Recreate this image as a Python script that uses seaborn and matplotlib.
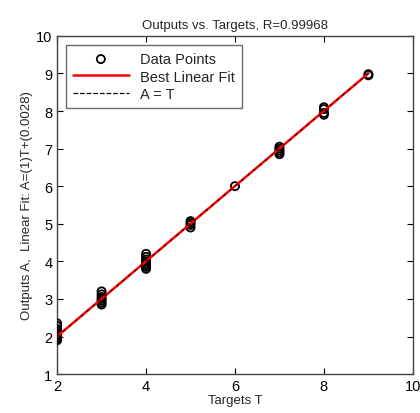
import matplotlib
matplotlib.use('Agg')
import matplotlib.pyplot as plt
import seaborn as sns
import pandas as pd
import numpy as np

# Targets and network outputs
targets = [2, 2, 2, 2, 2, 2, 2, 2, 2,
           3, 3, 3, 3, 3, 3, 3,
           4, 4, 4, 4, 4, 4, 4, 4,
           5, 5, 5, 5,
           6,
           7, 7, 7, 7, 7,
           8, 8, 8, 8,
           9, 9]
outputs = [1.90, 1.95, 2.00, 2.05, 2.10, 2.15, 2.20, 2.28, 2.35,
           2.85, 2.90, 2.95, 3.00, 3.05, 3.12, 3.20,
           3.80, 3.85, 3.90, 3.95, 4.00, 4.05, 4.12, 4.20,
           4.90, 4.97, 5.02, 5.07,
           6.00,
           6.85, 6.90, 6.95, 7.00, 7.05,
           7.90, 7.95, 8.05, 8.10,
           8.95, 8.98]
fit_slope = 1.0
fit_offset = 0.0028
r_value = 0.99968

df = pd.DataFrame({'T': targets, 'A': outputs})

sns.set_style('white')
plt.rcParams['font.family'] = ['Liberation Sans', 'DejaVu Sans']

fig = plt.figure(figsize=(4.2, 4.14), dpi=100)
ax = fig.add_axes([0.136, 0.094, 0.847, 0.817])

sns.scatterplot(data=df, x='T', y='A', ax=ax, marker='o', s=34,
                facecolors='none', edgecolor='black', linewidth=1.3,
                label='Data Points', zorder=3)

line_x = np.array([min(targets), max(targets)])
ax.plot(line_x, fit_slope * line_x + fit_offset, color='red', linewidth=1.8,
        label='Best Linear Fit', zorder=4)
ax.plot(line_x, line_x, color='black', linestyle=(0, (3, 5)), linewidth=0.7,
        label='A = T', zorder=5)

ax.set_xlim(2, 10)
ax.set_ylim(1, 10)
ax.set_xticks([2, 4, 6, 8, 10])
ax.set_yticks(range(1, 11))
ax.tick_params(direction='in', length=4, labelsize=10.5, colors='black',
               top=True, right=True, bottom=True, left=True)
for s in ax.spines.values():
    s.set_color('#444444')
    s.set_linewidth(1.0)

ax.set_title('Outputs vs. Targets, R=%.5f' % r_value, fontsize=9.5)
ax.set_xlabel('Targets T', fontsize=9.5, labelpad=1)
ax.set_ylabel('Outputs A,  Linear Fit: A=(1)T+(%.2g)' % fit_offset, fontsize=9.5, labelpad=2)

handles, labels = ax.get_legend_handles_labels()
order = [labels.index(l) for l in ['Data Points', 'Best Linear Fit', 'A = T']]
leg = ax.legend([handles[i] for i in order], [labels[i] for i in order],
                loc='upper left', fontsize=10.5, frameon=True, fancybox=False,
                edgecolor='#444444', borderpad=0.5, handlelength=3.8,
                labelspacing=0.25, borderaxespad=0.6)
leg.get_frame().set_linewidth(1.0)
leg_lines = leg.get_lines()
if leg_lines:
    leg_lines[-1].set_linestyle('--')
    leg_lines[-1].set_linewidth(0.9)

fig.savefig('out.png', dpi=100)
